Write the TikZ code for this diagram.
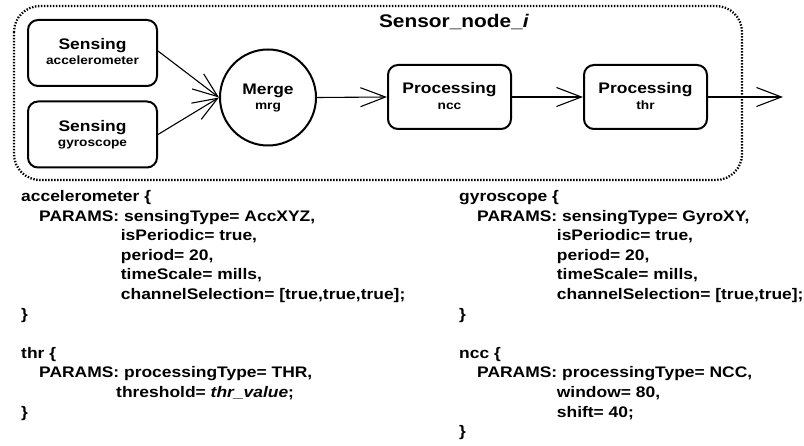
\documentclass[tikz,border=0pt]{standalone}
\usepackage{fontspec}
\setmainfont{Liberation Sans}[FakeStretch=1.14]
\usetikzlibrary{arrows.meta}

\newcommand\fsz[1]{\fontsize{#1}{#1}\selectfont}

\tikzset{
  stagebox/.style={draw, line width=2pt, rounded corners=10pt, inner sep=0pt},
  mergecirc/.style={draw, circle, line width=2pt, inner sep=0pt, minimum size=96pt},
  container/.style={line width=2.3pt, dash pattern=on 1.4pt off 1.6pt, rounded corners=26pt},
  flow/.style={line width=1.1pt, -{Straight Barb[length=25pt, width=19pt, line width=1.1pt]}},
  mainlab/.style={anchor=base, inner sep=0pt, font=\bfseries\fsz{15.3}},
  sublab/.style={anchor=base, inner sep=0pt, font=\bfseries\fsz{12}},
  codeline/.style={anchor=base west, inner sep=0pt, font=\bfseries\fsz{15.3}},
  titlelab/.style={anchor=base, inner sep=0pt, font=\bfseries\fsz{18.3}}
}

\begin{document}
\begin{tikzpicture}[x=1pt, y=-1pt]
  \useasboundingbox (0,0) rectangle (804,446);

  % sensor node boundary
  \draw[container] (14,6) rectangle (742,180);
  \node[titlelab] (title) at (454,28) {Sensor\_node\_\textit{i}};

  % processing stages
  \node[stagebox, minimum width=129pt, minimum height=66pt] (acc) at (92.5,53) {};
  \node[stagebox, minimum width=129pt, minimum height=66pt] (gyr) at (92.5,134.5) {};
  \node[mergecirc] (mrg) at (268,97.5) {};
  \node[stagebox, minimum width=123pt, minimum height=64pt] (ncc) at (449.5,97) {};
  \node[stagebox, minimum width=123pt, minimum height=64pt] (thr) at (645.5,97) {};
  \coordinate (out) at (783,97);

  \node[mainlab] (accA) at (92.5,50) {Sensing};
  \node[sublab]  (accB) at (92.5,65) {accelerometer};
  \node[mainlab] (gyrA) at (92.5,132) {Sensing};
  \node[sublab]  (gyrB) at (92.5,147) {gyroscope};
  \node[mainlab] (mrgA) at (268,94.5) {Merge};
  \node[sublab]  (mrgB) at (268,110) {mrg};
  \node[mainlab] (nccA) at (449.5,93.5) {Processing};
  \node[sublab]  (nccB) at (449.5,110) {ncc};
  \node[mainlab] (thrA) at (645.5,93.5) {Processing};
  \node[sublab]  (thrB) at (645.5,110) {thr};

  % data flow
  \draw[flow] ([yshift=2pt]acc.east) -- (mrg.west);
  \draw[flow] (gyr.east) -- (mrg.west);
  \draw[flow] (mrg.east) -- (ncc.west);
  \draw[flow] (ncc.east) -- (thr.west);
  \draw[flow] (thr.east) -- (out);

  % configuration listings, left column
  \node[codeline] (la0) at (21,201.5)   {accelerometer \{};
  \node[codeline] (la1) at (39,221.1)   {PARAMS: sensingType= AccXYZ,};
  \node[codeline] (la2) at (120.7,240.7) {isPeriodic= true,};
  \node[codeline] (la3) at (120.7,260.3) {period= 20,};
  \node[codeline] (la4) at (120.7,279.9) {timeScale= mills,};
  \node[codeline] (la5) at (120.7,299.5) {channelSelection= [true,true,true];};
  \node[codeline] (la6) at (21,319.1)   {\}};
  \node[codeline] (lb0) at (21,358.3)   {thr \{};
  \node[codeline] (lb1) at (39,377.9)   {PARAMS: processingType= THR,};
  \node[codeline] (lb2) at (116,397.5)  {threshold= \textit{thr\_value};};
  \node[codeline] (lb3) at (21,417.1)   {\}};

  % configuration listings, right column
  \node[codeline] (ra0) at (459,201.5)   {gyroscope \{};
  \node[codeline] (ra1) at (477,221.1)   {PARAMS: sensingType= GyroXY,};
  \node[codeline] (ra2) at (556.7,240.7) {isPeriodic= true,};
  \node[codeline] (ra3) at (556.7,260.3) {period= 20,};
  \node[codeline] (ra4) at (556.7,279.9) {timeScale= mills,};
  \node[codeline] (ra5) at (556.7,299.5) {channelSelection= [true,true];};
  \node[codeline] (ra6) at (459,319.1)   {\}};
  \node[codeline] (rb0) at (459,358.3)   {ncc \{};
  \node[codeline] (rb1) at (477,377.9)   {PARAMS: processingType= NCC,};
  \node[codeline] (rb2) at (556.7,397.5) {window= 80,};
  \node[codeline] (rb3) at (556.7,417.1) {shift= 40;};
  \node[codeline] (rb4) at (459,436.7)   {\}};
\end{tikzpicture}
\end{document}
